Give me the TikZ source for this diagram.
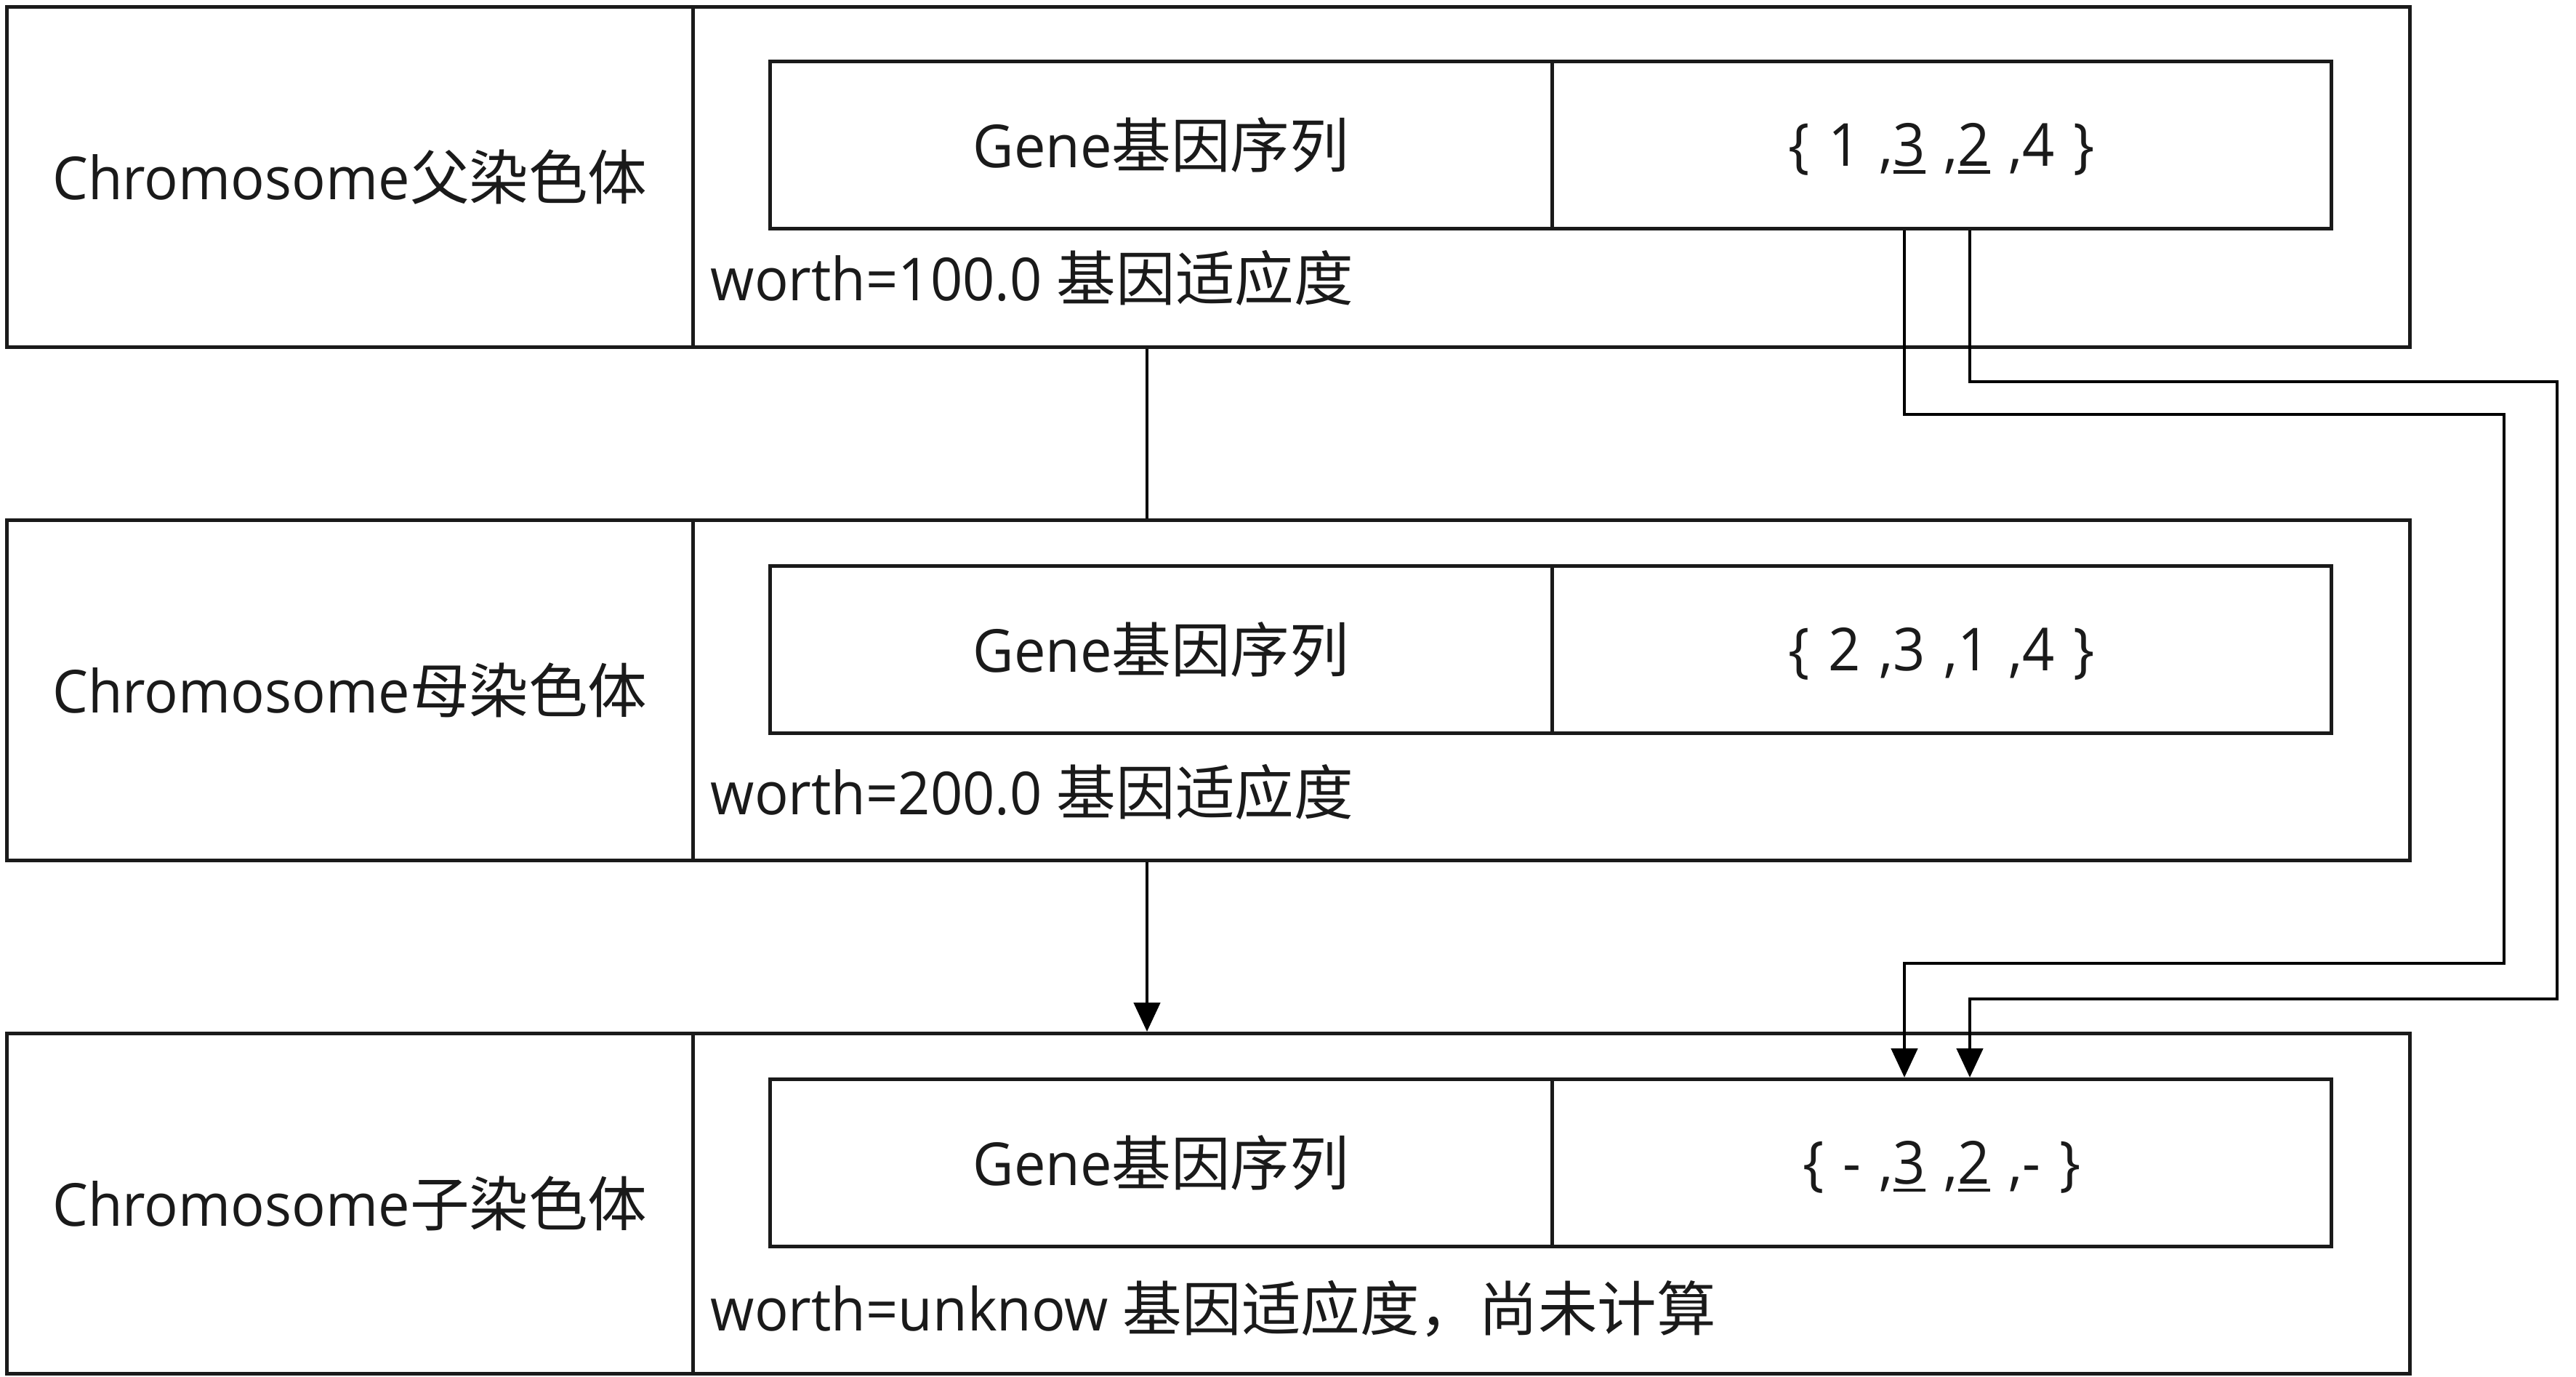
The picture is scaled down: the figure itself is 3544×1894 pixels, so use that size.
\documentclass[tikz,border=0pt]{standalone}
\usepackage{fontspec}
\setmainfont{Open Sans}[FakeStretch=0.95]
\newfontfamily\cjk{Noto Sans CJK SC}
\usetikzlibrary{arrows.meta}
\definecolor{ink}{HTML}{1A1A1A}
\newcommand\ulx[1]{\setbox0\hbox{#1}\rlap{\rule[-2.6pt]{\wd0}{1.1pt}}\box0\relax}
\newcommand\seqtxt[1]{\raisebox{-1.5pt}[\height][\depth]{\spaceskip=6.4pt #1}}
\begin{document}
\begin{tikzpicture}[x=0.25pt,y=-0.25pt,
  box/.style={draw=ink, line width=1.2pt, inner sep=0pt, anchor=north west, text=ink},
  cellL/.style={box, minimum width=236pt, minimum height=117pt},
  cellR/.style={box, minimum width=590.5pt, minimum height=117pt},
  geneL/.style={box, minimum width=269pt, minimum height=57.5pt},
  geneR/.style={box, minimum width=268pt, minimum height=57.5pt},
  lbl/.style={text=ink, inner sep=0pt, anchor=base west},
  link/.style={draw=black, line width=1.2pt},
  arr/.style={link, -{Triangle[length=10pt,width=9pt]}},
  font=\fontsize{20.4pt}{24pt}\selectfont]

\useasboundingbox (0,0) rectangle (3544,1894);

% father
\node[cellL] (c1) at (7,7) {Chromosome{\cjk 父染色体}};
\node[cellR] (r1) at (951,7) {};
\node[geneL] (g1) at (1057,82) {Gene{\cjk 基因序列}};
\node[geneR] (s1) at (2133,82) {\seqtxt{\{ 1 ,\ulx{3} ,\ulx{2} ,4 \}}};
\node[lbl] (w1) at (977,413) {worth=100.0 {\cjk 基因适应度}};

% mother
\node[cellL] (c2) at (7,713) {Chromosome{\cjk 母染色体}};
\node[cellR] (r2) at (951,713) {};
\node[geneL] (g2) at (1057,776) {Gene{\cjk 基因序列}};
\node[geneR] (s2) at (2133,776) {\seqtxt{\{ 2 ,3 ,1 ,4 \}}};
\node[lbl] (w2) at (977,1120) {worth=200.0 {\cjk 基因适应度}};

% child
\node[cellL] (c3) at (7,1419) {Chromosome{\cjk 子染色体}};
\node[cellR] (r3) at (951,1419) {};
\node[geneL] (g3) at (1057,1482) {Gene{\cjk 基因序列}};
\node[geneR] (s3) at (2133,1482) {\seqtxt{\{ - ,\ulx{3} ,\ulx{2} ,- \}}};
\node[lbl] (w3) at (977,1830) {worth=unknow {\cjk 基因适应度，尚未计算}};

% parents to child
\coordinate (cx) at (1578,0);
\draw[link] (r1.south -| cx) -- (r2.north -| cx);
\draw[arr] (r2.south -| cx) -- (r3.north -| cx);

% gene crossover
\coordinate (ax) at (2620,0);
\coordinate (bx) at (2710,0);
\coordinate (a1) at (2620,570);
\coordinate (a2) at (3445,570);
\coordinate (a3) at (3445,1325);
\coordinate (a4) at (2620,1325);
\coordinate (b1) at (2710,525);
\coordinate (b2) at (3518,525);
\coordinate (b3) at (3518,1374);
\coordinate (b4) at (2710,1374);
\draw[arr] (s1.south -| ax) -- (a1) -- (a2) -- (a3) -- (a4) -- (s3.north -| ax);
\draw[arr] (s1.south -| bx) -- (b1) -- (b2) -- (b3) -- (b4) -- (s3.north -| bx);
\end{tikzpicture}
\end{document}
